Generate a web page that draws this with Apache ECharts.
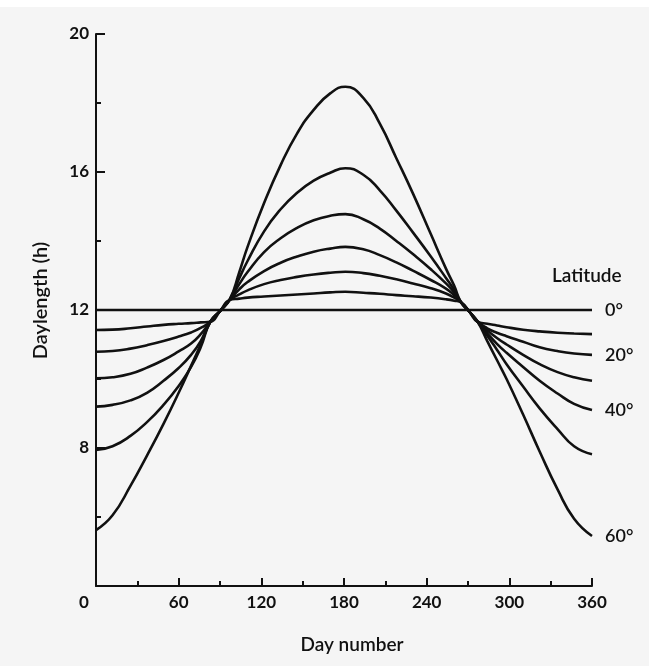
<!DOCTYPE html>
<html>
<head>
<meta charset="utf-8">
<script src="https://cdn.jsdelivr.net/npm/echarts@6/dist/echarts.min.js"></script>
<style>
  html, body { margin: 0; padding: 0; background: #f5f5f5; }
  #chart { width: 649px; height: 666px; }
</style>
</head>
<body>
<div id="chart"></div>
<script>
// Day numbers at which each daylength curve is sampled
const days = [0, 12, 25, 37, 49, 60, 69, 76, 83, 90, 97, 104, 110, 122, 134, 146, 158, 170, 181,
              194, 206, 218, 230, 243, 254, 260, 265, 271, 277, 284, 291, 298, 310, 322, 335, 347, 360];

// Daylength (hours) for each latitude, one value per entry of `days`
const lat10 = [11.42, 11.43, 11.47, 11.52, 11.57, 11.6, 11.62, 11.64, 11.66, 11.97, 12.29, 12.33, 12.36, 12.39, 12.42, 12.45, 12.48, 12.51, 12.53,
               12.5, 12.47, 12.43, 12.4, 12.36, 12.31, 12.27, 12.22, 11.95, 11.66, 11.6, 11.55, 11.5, 11.43, 11.38, 11.34, 11.32, 11.3];
const lat20 = [10.79, 10.81, 10.88, 10.98, 11.1, 11.23, 11.35, 11.48, 11.66, 11.97, 12.29, 12.45, 12.57, 12.75, 12.87, 12.96, 13.03, 13.08, 13.11,
               13.07, 12.99, 12.89, 12.77, 12.63, 12.48, 12.36, 12.22, 11.95, 11.66, 11.47, 11.34, 11.24, 11.08, 10.92, 10.81, 10.74, 10.7];
const lat30 = [10.02, 10.05, 10.15, 10.33, 10.55, 10.8, 11.03, 11.3, 11.66, 11.97, 12.29, 12.6, 12.81, 13.13, 13.37, 13.55, 13.69, 13.78, 13.83,
               13.76, 13.59, 13.38, 13.14, 12.87, 12.62, 12.43, 12.22, 11.95, 11.66, 11.41, 11.19, 11.0, 10.7, 10.43, 10.2, 10.05, 9.95];
const lat40 = [9.2, 9.25, 9.38, 9.6, 9.95, 10.32, 10.7, 11.1, 11.66, 11.97, 12.3, 12.75, 13.1, 13.68, 14.08, 14.38, 14.6, 14.73, 14.78,
               14.63, 14.36, 14.0, 13.62, 13.18, 12.77, 12.51, 12.22, 11.95, 11.66, 11.32, 11.02, 10.76, 10.35, 9.95, 9.58, 9.28, 9.1];
const lat50 = [7.94, 8.05, 8.35, 8.75, 9.25, 9.8, 10.35, 10.92, 11.66, 11.97, 12.3, 12.92, 13.42, 14.28, 14.92, 15.4, 15.75, 15.98, 16.11,
               15.92, 15.47, 14.88, 14.25, 13.55, 12.93, 12.58, 12.22, 11.95, 11.66, 11.25, 10.85, 10.43, 9.78, 9.15, 8.55, 8.05, 7.82];
const lat60 = [5.62, 6.05, 6.9, 7.78, 8.7, 9.6, 10.38, 11.0, 11.66, 11.97, 12.3, 13.1, 13.83, 15.1, 16.2, 17.12, 17.8, 18.28, 18.47,
               18.15, 17.4, 16.4, 15.38, 14.2, 13.2, 12.7, 12.22, 11.95, 11.66, 11.1, 10.55, 10.0, 8.97, 7.9, 6.8, 5.95, 5.45];

// The equator: a constant 12 h all year
const eqDays = [0, 360];
const eqHours = [12, 12];

// Latitude curves with their labels (empty label = unlabelled curve)
const curves = [
  { name: '0°',  x: eqDays, y: eqHours, label: '0°' },
  { name: '10°', x: days, y: lat10, label: '' },
  { name: '20°', x: days, y: lat20, label: '20°' },
  { name: '30°', x: days, y: lat30, label: '' },
  { name: '40°', x: days, y: lat40, label: '40°' },
  { name: '50°', x: days, y: lat50, label: '' },
  { name: '60°', x: days, y: lat60, label: '60°' }
];

const INK = '#111';
const FONT = 'Lato, "Open Sans", sans-serif';

const chart = echarts.init(document.getElementById('chart'), null, { renderer: 'canvas' });

chart.setOption({
  animation: false,
  backgroundColor: '#f5f5f5',
  grid: { left: 96, top: 34, width: 496, height: 552 },
  xAxis: {
    type: 'value',
    min: 0, max: 360, interval: 60,
    name: 'Day number',
    nameLocation: 'middle',
    nameGap: 49,
    nameTextStyle: { color: INK, fontFamily: FONT, fontSize: 19, fontWeight: 600, padding: [0, 0, 0, 16] },
    axisLine: { onZero: false, lineStyle: { color: INK, width: 2 } },
    axisTick: { inside: true, length: 8, lineStyle: { color: INK, width: 2 } },
    minorTick: { show: true, splitNumber: 2, length: 5, lineStyle: { color: INK, width: 2 } },
    splitLine: { show: false },
    axisLabel: {
      color: INK, fontFamily: FONT, fontSize: 17, fontWeight: 'bold', margin: 8,
      formatter: v => v === 0 ? '{z|0}' : String(v),
      rich: { z: { color: INK, fontFamily: FONT, fontSize: 17, fontWeight: 'bold', padding: [0, 24, 0, 0] } }
    }
  },
  yAxis: {
    type: 'value',
    min: 4, max: 20, interval: 4,
    name: 'Daylength (h)',
    nameLocation: 'middle',
    nameGap: 45,
    nameTextStyle: { color: INK, fontFamily: FONT, fontSize: 20, fontWeight: 600, padding: [0, 0, 0, 19] },
    axisLine: { lineStyle: { color: INK, width: 2 } },
    axisTick: { inside: true, length: 9, lineStyle: { color: INK, width: 2 } },
    minorTick: { show: true, splitNumber: 2, length: 5, lineStyle: { color: INK, width: 2 } },
    splitLine: { show: false },
    axisLabel: {
      color: INK, fontFamily: FONT, fontSize: 17, fontWeight: 'bold', margin: 7,
      formatter: v => v === 4 ? '' : String(v)
    }
  },
  graphic: [
    { type: 'rect', left: 0, top: 0, shape: { width: 649, height: 7 }, style: { fill: '#ffffff' }, silent: true },
    {
      type: 'text', left: 552, top: 266,
      style: { text: 'Latitude', fill: INK, font: '600 19px ' + FONT }
    }
  ],
  series: curves.map(c => ({
    type: 'line',
    name: c.name,
    data: c.x.map((d, i) => [d, c.y[i]]),
    smooth: 0.5,
    symbol: 'none',
    showSymbol: false,
    lineStyle: { color: INK, width: 2.6 },
    endLabel: {
      show: c.label !== '',
      formatter: c.label,
      distance: 13,
      color: INK,
      fontFamily: FONT,
      fontSize: 18,
      fontWeight: 600
    },
    z: 3
  }))
});
</script>
</body>
</html>
